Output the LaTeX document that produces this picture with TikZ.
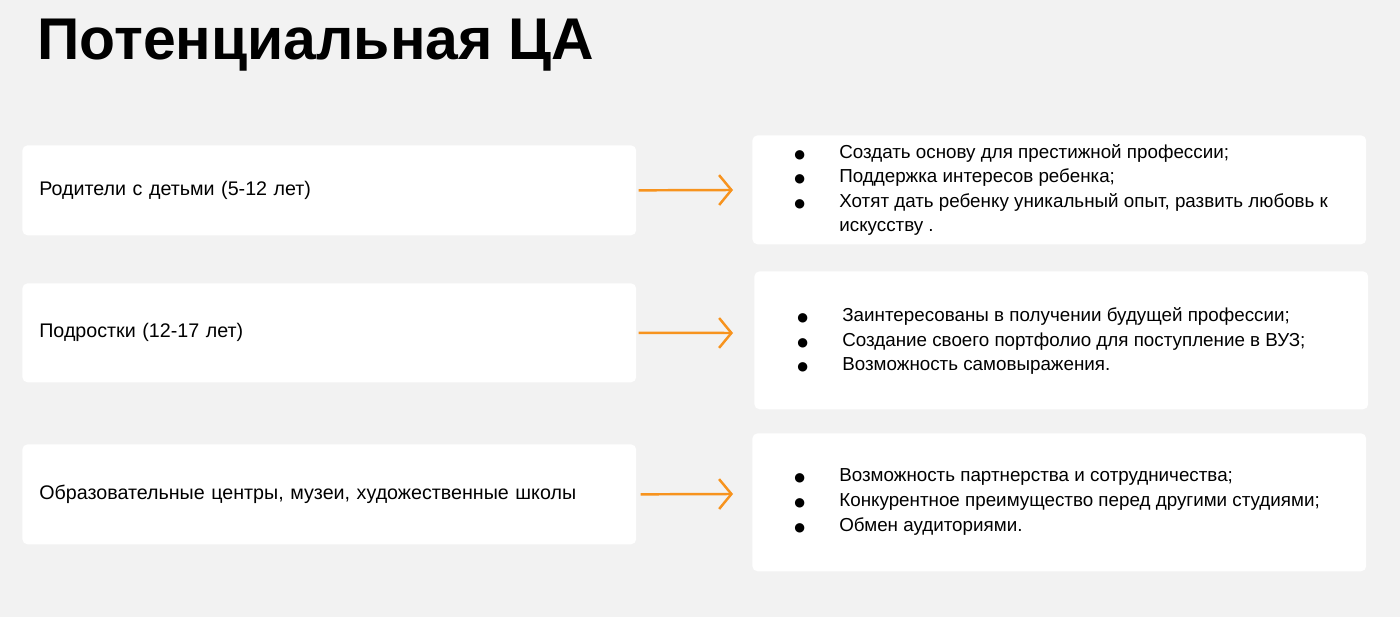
\documentclass[tikz,border=0pt]{standalone}
\usepackage{fontspec}
\setmainfont{Liberation Sans}
\newfontfamily\dejavu{DejaVu Sans}
\usetikzlibrary{positioning, arrows.meta}
\definecolor{bgcol}{HTML}{F2F2F2}
\definecolor{arrcol}{HTML}{F7931E}
\tikzset{
  group/.style={fill=white, rounded corners=3pt, minimum width=12.28cm, anchor=north west, align=left, text width=11.6cm, inner xsep=0.32cm, font=\fontsize{11.2}{14}\selectfont},
  needs/.style={fill=white, rounded corners=3pt, minimum width=12.28cm, anchor=north west},
  list/.style={anchor=west, align=left, inner sep=0pt, font=\fontsize{10.7}{14}\selectfont},
  arrow/.style={draw=arrcol, line width=1.4pt, -{Straight Barb[length=7pt,width=17pt]}}
}
\newcommand{\pt}[1]{\makebox[0.9cm][l]{\dejavu\fontsize{7}{14}\selectfont ●}\parbox[t]{10.5cm}{#1}\par}
\begin{document}
\begin{tikzpicture}[x=0.02cm, y=-0.02cm]
  \fill[bgcol] (0,0) rectangle (1400,617);
  \useasboundingbox (0,0) rectangle (1400,617);
  \node[anchor=west, inner sep=0pt, font=\fontsize{33.5}{40}\selectfont\bfseries] (title) at (37,45) {Потенциальная ЦА};

  % left side
  \node (par) [group, minimum height=1.8cm] at (22,145) {Родители с детьми (5-12 лет)};
  \node (teen) [group, minimum height=1.98cm] at (22,283) {Подростки (12-17 лет)};
  \node (org) [group, minimum height=2cm] at (22,444) {Образовательные центры, музеи, художественные школы};

  % right side
  \node (npar) [needs, minimum height=2.18cm] at (752,135) {};
  \node (nteen) [needs, minimum height=2.76cm] at (754,271) {};
  \node (norg) [needs, minimum height=2.76cm] at (752,433) {};

  \node (lpar) [list] at (794,190) {\parbox{11.4cm}{%
    \pt{Создать основу для престижной профессии;}
    \pt{Поддержка интересов ребенка;}
    \pt{Хотят дать ребенку уникальный опыт, развить любовь к\newline искусству .}}};
  \node (lteen) [list] at (797,341) {\parbox{11.4cm}{%
    \pt{Заинтересованы в получении будущей профессии;}
    \pt{Создание своего портфолио для поступление в ВУЗ;}
    \pt{Возможность самовыражения.}}};
  \node (lorg) [list] at (794,502) {\parbox{11.4cm}{%
    \pt{Возможность партнерства и сотрудничества;}
    \pt{Конкурентное преимущество перед другими студиями;}
    \pt{Обмен аудиториями.}}};

  \coordinate (a1) at (733,190);
  \coordinate (a2) at (733,333);
  \coordinate (a3) at (733,494);
  \draw [arrow] (par.east) ++(2,0) -- (a1);
  \draw [arrow] (teen.east) ++(2,0) -- (a2);
  \draw [arrow] (org.east) ++(4,0) -- (a3);
\end{tikzpicture}
\end{document}
